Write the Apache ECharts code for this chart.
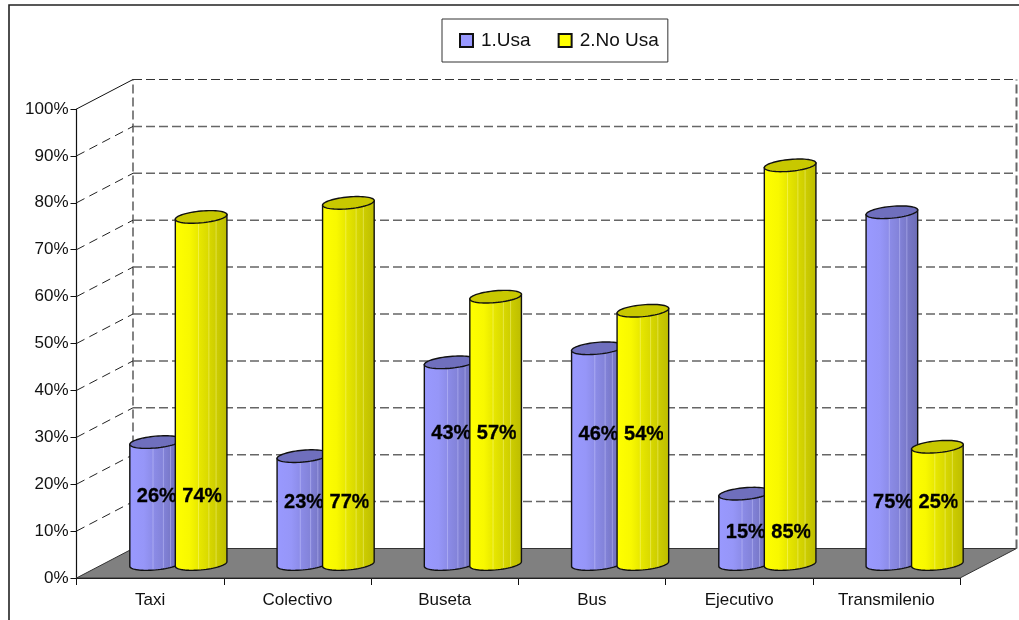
<!DOCTYPE html>
<html>
<head>
<meta charset="utf-8">
<style>html,body{margin:0;padding:0;background:#fff}#chart{width:1019px;height:620px}</style>
<script src="https://cdn.jsdelivr.net/npm/echarts@6/dist/echarts.min.js"></script>
</head>
<body>
<div id="chart"></div>
<script>
// Transport use survey: share of respondents per mode
const categories = ['Taxi', 'Colectivo', 'Buseta', 'Bus', 'Ejecutivo', 'Transmilenio'];
const usaValues = [26, 23, 43, 46, 15, 75];
const noUsaValues = [74, 77, 57, 54, 85, 25];
const yTicks = [0, 10, 20, 30, 40, 50, 60, 70, 80, 90, 100];
// Axis level at which each category's value labels sit
const labelLevels = [17.3, 16, 30.9, 30.5, 9.6, 16];

const FONT = '"Liberation Sans", Arial, sans-serif';
// Pseudo-3D projection of the chart box
const DEPTH_X = 56.5, DEPTH_Y = -29.5;
const RADIUS = 25.8, CAP_TILT = 2.3, CAP_MINOR = 5.9;
const BAR_SHIFT = 22.75;
const SEAMS = [0.45, 0.65, 0.79];

const blueLook = {
  cap: '#6f6fbd',
  seam: 'rgba(205,205,255,0.45)',
  body: [[0, '#9999ff'], [0.28, '#9696f8'], [0.45, '#8c8ce8'], [0.65, '#8282d8'], [0.79, '#7878c8'], [1, '#6c6cb4']]
};
const yellowLook = {
  cap: '#c8c800',
  seam: 'rgba(255,255,170,0.4)',
  body: [[0, '#ffff00'], [0.28, '#f8f800'], [0.45, '#e8e800'], [0.65, '#d8d800'], [0.79, '#cdcd00'], [1, '#bcbc00']]
};

function capPoint(cx, cy, t) {
  return [cx + RADIUS * Math.cos(t), cy - CAP_TILT * Math.cos(t) + CAP_MINOR * Math.sin(t)];
}

function cylinderRenderer(side, look) {
  return function (params, api) {
    const idx = api.value(0);
    const value = api.value(1);
    const base = api.coord([idx, 0]);
    const top = api.coord([idx, value]);
    const cx = base[0] + DEPTH_X / 2 + side * BAR_SHIFT;
    const baseY = base[1] + DEPTH_Y / 2 + 0.75;
    const topY = top[1] + DEPTH_Y / 2 + 0.75;

    // Side surface: the lower arc of the base, then straight up to the top cap
    const outline = [];
    for (let k = 0; k <= 32; k++) outline.push(capPoint(cx, baseY, Math.PI * (1 - k / 32)));
    outline.push(capPoint(cx, topY, 0));
    outline.push(capPoint(cx, topY, Math.PI));

    const cap = [];
    for (let k = 0; k < 64; k++) cap.push(capPoint(cx, topY, 2 * Math.PI * k / 64));

    const children = [{
      type: 'polygon',
      shape: { points: outline },
      style: {
        fill: new echarts.graphic.LinearGradient(0, 0, 1, 0, look.body.map(s => ({ offset: s[0], color: s[1] }))),
        stroke: '#111',
        lineWidth: 1.4
      }
    }];

    SEAMS.forEach(f => {
      const t = Math.acos(2 * f - 1);
      const upper = capPoint(cx, topY, t);
      const lower = capPoint(cx, baseY, t);
      children.push({
        type: 'line',
        shape: { x1: upper[0], y1: upper[1], x2: lower[0], y2: lower[1] - 1 },
        style: { stroke: look.seam, lineWidth: 1 }
      });
    });

    children.push({
      type: 'polygon',
      shape: { points: cap },
      style: { fill: look.cap, stroke: '#111', lineWidth: 1.4 }
    });

    const left = cx - RADIUS;
    const labelPt = api.coord([idx, labelLevels[idx]]);
    children.push({
      type: 'text',
      style: {
        x: left + 7,
        y: labelPt[1],
        text: value + '%',
        font: 'bold 20px ' + FONT,
        fill: '#000',
        stroke: '#000',
        lineWidth: 0.3,
        textAlign: 'left',
        textVerticalAlign: 'middle'
      },
      clipPath: {
        type: 'rect',
        shape: { x: left, y: labelPt[1] - 20, width: 46, height: 40 }
      }
    });

    return { type: 'group', children: children };
  };
}

// Floor, side walls, back-wall gridlines and the slanted connectors
function renderWall(params, api) {
  const v = api.value(1);
  const sys = params.coordSys;
  const y = api.coord([0, v])[1];
  const xL = sys.x, xR = sys.x + sys.width;
  const bx = xL + DEPTH_X, by = y + DEPTH_Y;
  const kids = [];
  if (v === 0) {
    const yTop = api.coord([0, 100])[1];
    kids.push({
      type: 'polygon',
      shape: { points: [[xL, y], [xR, y], [xR + DEPTH_X, by], [bx, by]] },
      style: { fill: '#808080', stroke: '#333', lineWidth: 1 }
    });
    kids.push({
      type: 'line',
      shape: { x1: bx, y1: by, x2: bx, y2: yTop + DEPTH_Y },
      style: { stroke: '#333', lineWidth: 1.2, lineDash: [9, 4] }
    });
    kids.push({
      type: 'line',
      shape: { x1: xR + DEPTH_X, y1: by, x2: xR + DEPTH_X, y2: yTop + DEPTH_Y },
      style: { stroke: '#666', lineWidth: 2, lineDash: [9, 4] }
    });
  } else {
    kids.push({
      type: 'line',
      shape: { x1: bx, y1: by, x2: xR + DEPTH_X, y2: by },
      style: { stroke: v === 100 ? '#333' : '#666', lineWidth: v === 100 ? 1.2 : 1.5, lineDash: [9, 4] }
    });
    kids.push({
      type: 'line',
      shape: { x1: xL, y1: y, x2: bx, y2: by },
      style: v === 100 ? { stroke: '#111', lineWidth: 1 } : { stroke: '#222', lineWidth: 1, lineDash: [9, 5.5] }
    });
  }
  return { type: 'group', children: kids };
}

const chart = echarts.init(document.getElementById('chart'), null, { renderer: 'canvas' });
chart.setOption({
  animation: false,
  backgroundColor: '#fff',
  graphic: [{
    type: 'rect',
    silent: true,
    z: -10,
    shape: { x: 9, y: 5, width: 1100, height: 700 },
    style: { fill: 'none', stroke: '#222', lineWidth: 1.6 }
  }],
  legend: {
    left: 442,
    top: 19,
    padding: [12, 9, 12, 17],
    borderColor: '#333',
    borderWidth: 1,
    itemWidth: 13,
    itemHeight: 13,
    itemGap: 27,
    data: ['1.Usa', '2.No Usa'],
    icon: 'rect',
    textStyle: { fontFamily: FONT, fontSize: 19, color: '#111', padding: [1, 0, 0, 3] }
  },
  grid: { left: 76.5, top: 109, width: 883.5, height: 469, containLabel: false },
  xAxis: {
    type: 'category',
    data: categories,
    axisLine: { show: true, lineStyle: { color: '#111', width: 1.2 } },
    axisTick: { show: true, length: 7, alignWithLabel: false, lineStyle: { color: '#111' } },
    axisLabel: { fontFamily: FONT, fontSize: 17, color: '#111', margin: 14, interval: 0 },
    splitLine: { show: false }
  },
  yAxis: {
    type: 'value',
    min: 0,
    max: 100,
    interval: 10,
    axisLine: { show: true, lineStyle: { color: '#111', width: 1.2 } },
    axisTick: { show: true, length: 6, lineStyle: { color: '#111' } },
    axisLabel: { fontFamily: FONT, fontSize: 17, color: '#111', margin: 8, padding: [2, 0, 0, 0], formatter: '{value}%' },
    splitLine: { show: false }
  },
  series: [
    {
      type: 'custom',
      name: 'wall',
      silent: true,
      clip: false,
      renderItem: renderWall,
      encode: { x: 0, y: 1 },
      data: yTicks.map(v => [0, v]),
      z: 1
    },
    {
      type: 'custom',
      name: '1.Usa',
      clip: false,
      renderItem: cylinderRenderer(-1, blueLook),
      encode: { x: 0, y: 1 },
      itemStyle: { color: '#9999ff', borderColor: '#111', borderWidth: 1 },
      data: usaValues.map((v, i) => [i, v]),
      z: 2
    },
    {
      type: 'custom',
      name: '2.No Usa',
      clip: false,
      renderItem: cylinderRenderer(1, yellowLook),
      encode: { x: 0, y: 1 },
      itemStyle: { color: '#ffff00', borderColor: '#111', borderWidth: 1 },
      data: noUsaValues.map((v, i) => [i, v]),
      z: 2
    }
  ]
});
</script>
</body>
</html>
